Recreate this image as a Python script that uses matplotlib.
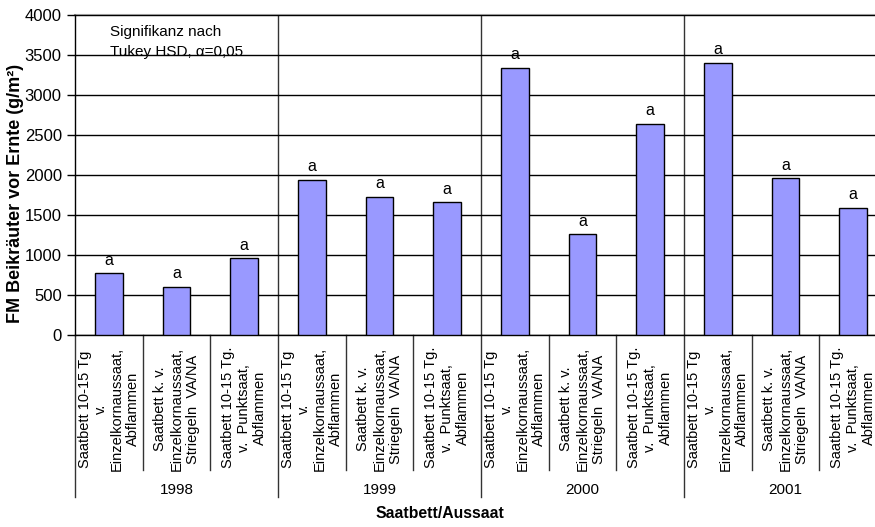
#!/usr/bin/env python

# Third-Party Packages
import numpy as np
import matplotlib as mpl; mpl.use("Agg")
import matplotlib.pyplot as plt
from matplotlib.transforms import blended_transform_factory

# Matplotlib Configuration
# ------------------------------------------------------------------------------
mpl.rcParams.update({
    "font.family": ["Liberation Sans", "DejaVu Sans"],
    "font.size": 11,
})

# Data
# ------------------------------------------------------------------------------
years = ["1998", "1999", "2000", "2001"]
variants = [
    "Saatbett 10-15 Tg\nv.\nEinzelkornaussaat,\nAbflammen",
    "Saatbett k. v.\nEinzelkornaussaat,\nStriegeln  VA/NA",
    "Saatbett 10-15 Tg.\nv.  Punktsaat,\nAbflammen",
]
values = [770, 600, 960,
          1940, 1730, 1660,
          3340, 1260, 2640,
          3400, 1960, 1590]
letters = ["a"] * 12

# Figure
# ------------------------------------------------------------------------------
W, H = 875, 527
fig = plt.figure(figsize=(W / 100, H / 100), dpi=100)
ax = fig.add_axes([75 / W, (H - 335) / H, (887 - 75) / W, 320 / H])

n = len(values)
x = np.arange(n) + 0.5
ax.bar(x, values, width=0.41, color="#9999FF", edgecolor="black",
       linewidth=1.0, zorder=3)
for xi, v, s in zip(x, values, letters):
    ax.text(xi, v + 70, s, ha="center", va="bottom", fontsize=11.5)

ax.set_xlim(0, n)
ax.set_ylim(0, 4000)
ax.set_yticks(np.arange(0, 4001, 500))
ax.yaxis.grid(True, color="black", linewidth=1.0, zorder=0)
ax.tick_params(axis="y", direction="out", length=6, width=1, labelsize=12)
ax.set_xticks([])
for side in ["top", "right"]:
    ax.spines[side].set_visible(False)
ax.spines["left"].set_linewidth(1.0)
ax.spines["bottom"].set_linewidth(1.0)
ax.axhline(4000, color="#999999", linewidth=1.5, zorder=1, clip_on=False)

# year separators inside the plot
for b in range(3, n, 3):
    ax.axvline(b, color="#333333", linewidth=1.0, zorder=1)

# Category axis (two levels)
# ------------------------------------------------------------------------------
tr = blended_transform_factory(ax.transData, ax.transAxes)
px = 1.0 / 320.0  # one pixel in axes fraction (vertical)
for b in range(0, n + 1):
    low = 162 if b % 3 == 0 else 135
    ax.plot([b, b], [0, -low * px], color="#333333", linewidth=1.0,
            transform=tr, clip_on=False)

for i, xi in enumerate(x):
    ax.text(xi, -12 * px, variants[i % 3], rotation=90, ha="center", va="top",
            multialignment="center", linespacing=1.2, fontsize=10.5,
            transform=tr)

for j, yr in enumerate(years):
    ax.text(3 * j + 1.5, -155 * px, yr, ha="center", va="center",
            fontsize=11, transform=tr)

fig.text(440 / W, (H - 513) / H, "Saatbett/Aussaat",
         ha="center", va="center", fontsize=11.3, fontweight="bold")
fig.text(16 / W, (H - 193) / H, "FM Beikräuter vor Ernte (g/m²)",
         rotation=90, ha="center", va="center", fontsize=13, fontweight="bold")

fig.text(110 / W, (H - 32) / H, "Signifikanz nach",
         ha="left", va="center", fontsize=11)
fig.text(110 / W, (H - 52) / H, "Tukey HSD, α=0,05",
         ha="left", va="center", fontsize=11)

fig.savefig("out.png", dpi=100)
